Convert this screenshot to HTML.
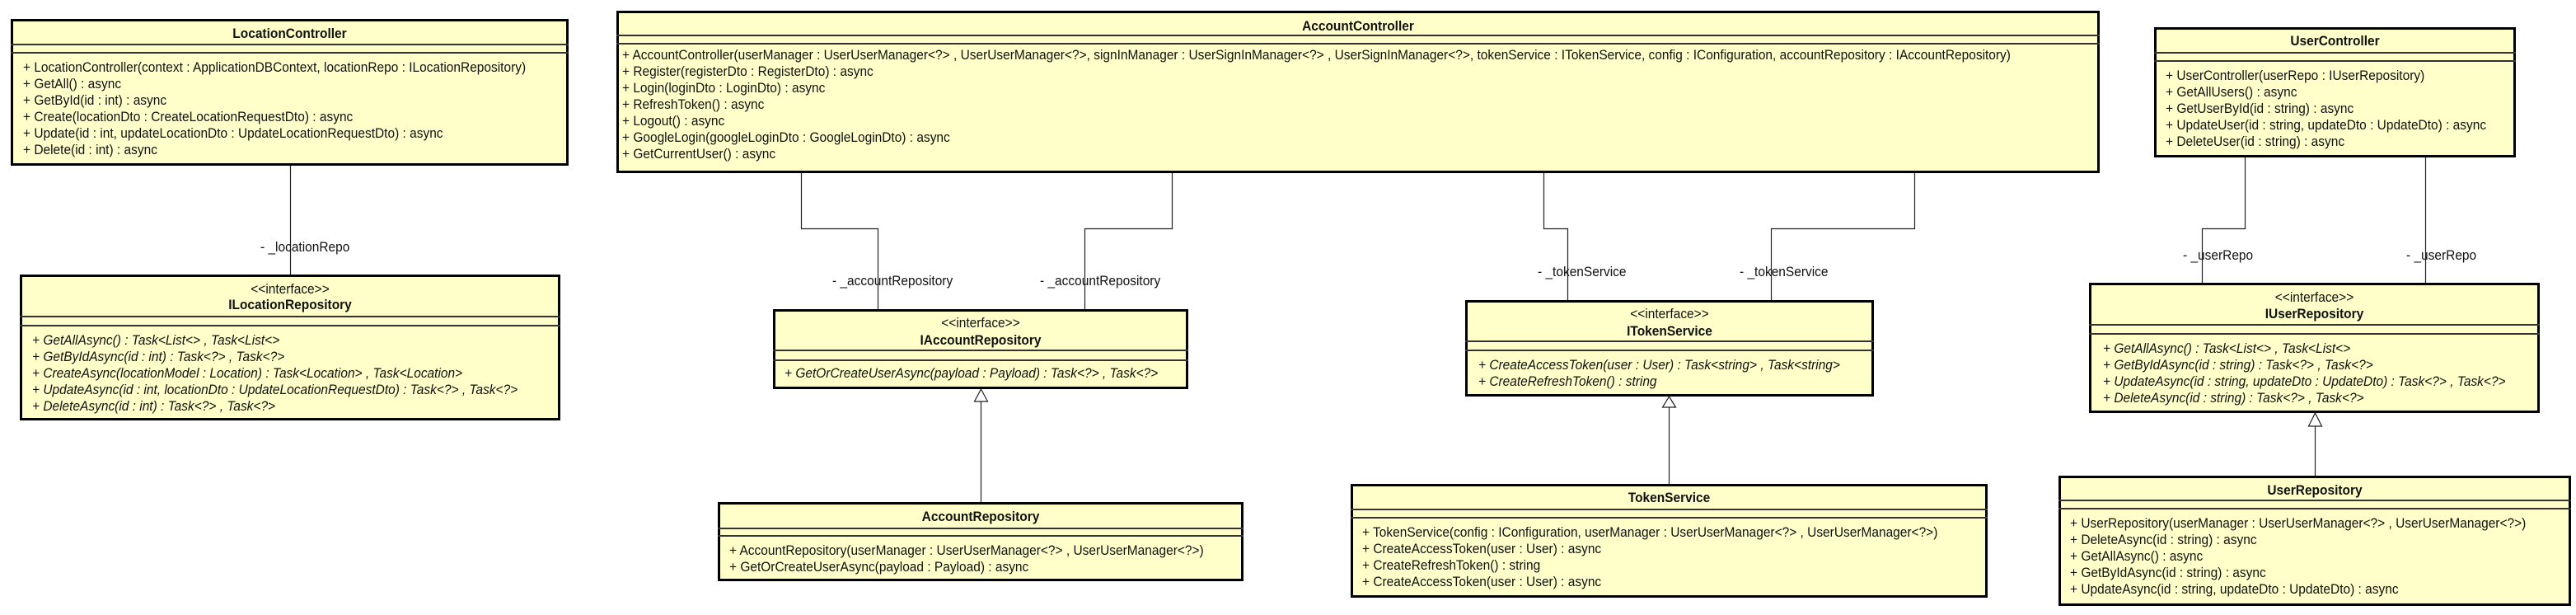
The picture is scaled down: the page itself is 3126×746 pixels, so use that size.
<!DOCTYPE html>
<html><head><meta charset="utf-8"><style>
body{margin:0;width:3126px;height:746px;background:#fff;position:relative;overflow:hidden;font-family:"Liberation Sans",Arial,sans-serif;}
.b{position:absolute;background:#ffffca;border:3px solid #000;box-sizing:border-box;}
.s{position:absolute;height:2px;background:#333;}
.t{position:absolute;white-space:nowrap;font-size:17px;line-height:20px;height:20px;color:#111;transform:scaleX(0.91);transform-origin:0 50%;}
.c{position:absolute;white-space:nowrap;font-size:17px;line-height:20px;height:20px;text-align:center;color:#111;transform:scaleX(0.91);transform-origin:50% 50%;}
.bold{font-weight:bold;}
.i{font-style:italic;}
svg{position:absolute;left:0;top:0;}
</style></head><body>

<div class="b" style="left:13px;top:23px;width:677px;height:178px"></div>
<div class="s" style="left:13px;top:53px;width:677px"></div>
<div class="s" style="left:13px;top:63px;width:677px"></div>
<div class="c bold" style="left:13px;top:31px;width:677px">LocationController</div>
<div class="t" style="left:28px;top:72px">+ LocationController(context : ApplicationDBContext, locationRepo : ILocationRepository)</div>
<div class="t" style="left:28px;top:92px">+ GetAll() : async</div>
<div class="t" style="left:28px;top:112px">+ GetById(id : int) : async</div>
<div class="t" style="left:28px;top:132px">+ Create(locationDto : CreateLocationRequestDto) : async</div>
<div class="t" style="left:28px;top:152px">+ Update(id : int, updateLocationDto : UpdateLocationRequestDto) : async</div>
<div class="t" style="left:28px;top:172px">+ Delete(id : int) : async</div>

<div class="b" style="left:24px;top:333px;width:656px;height:177px"></div>
<div class="s" style="left:24px;top:383px;width:656px"></div>
<div class="s" style="left:24px;top:394px;width:656px"></div>
<div class="c" style="left:24px;top:341px;width:656px">&lt;&lt;interface&gt;&gt;</div>
<div class="c bold" style="left:24px;top:360px;width:656px">ILocationRepository</div>
<div class="t i" style="left:39px;top:403px">+ GetAllAsync() : Task&lt;List&lt;&gt; , Task&lt;List&lt;&gt;</div>
<div class="t i" style="left:39px;top:423px">+ GetByIdAsync(id : int) : Task&lt;?&gt; , Task&lt;?&gt;</div>
<div class="t i" style="left:39px;top:443px">+ CreateAsync(locationModel : Location) : Task&lt;Location&gt; , Task&lt;Location&gt;</div>
<div class="t i" style="left:39px;top:463px">+ UpdateAsync(id : int, locationDto : UpdateLocationRequestDto) : Task&lt;?&gt; , Task&lt;?&gt;</div>
<div class="t i" style="left:39px;top:483px">+ DeleteAsync(id : int) : Task&lt;?&gt; , Task&lt;?&gt;</div>

<div class="b" style="left:748px;top:13px;width:1800px;height:197px"></div>
<div class="s" style="left:748px;top:42px;width:1800px"></div>
<div class="s" style="left:748px;top:52px;width:1800px"></div>
<div class="c bold" style="left:748px;top:22px;width:1800px">AccountController</div>
<div class="t" style="left:755px;top:57px">+ AccountController(userManager : UserUserManager&lt;?&gt; , UserUserManager&lt;?&gt;, signInManager : UserSignInManager&lt;?&gt; , UserSignInManager&lt;?&gt;, tokenService : ITokenService, config : IConfiguration, accountRepository : IAccountRepository)</div>
<div class="t" style="left:755px;top:77px">+ Register(registerDto : RegisterDto) : async</div>
<div class="t" style="left:755px;top:97px">+ Login(loginDto : LoginDto) : async</div>
<div class="t" style="left:755px;top:117px">+ RefreshToken() : async</div>
<div class="t" style="left:755px;top:137px">+ Logout() : async</div>
<div class="t" style="left:755px;top:157px">+ GoogleLogin(googleLoginDto : GoogleLoginDto) : async</div>
<div class="t" style="left:755px;top:177px">+ GetCurrentUser() : async</div>

<div class="b" style="left:938px;top:375px;width:504px;height:97px"></div>
<div class="s" style="left:938px;top:424px;width:504px"></div>
<div class="s" style="left:938px;top:436px;width:504px"></div>
<div class="c" style="left:938px;top:382px;width:504px">&lt;&lt;interface&gt;&gt;</div>
<div class="c bold" style="left:938px;top:403px;width:504px">IAccountRepository</div>
<div class="t i" style="left:952px;top:443px">+ GetOrCreateUserAsync(payload : Payload) : Task&lt;?&gt; , Task&lt;?&gt;</div>

<div class="b" style="left:871px;top:609px;width:638px;height:96px"></div>
<div class="s" style="left:871px;top:640px;width:638px"></div>
<div class="s" style="left:871px;top:649px;width:638px"></div>
<div class="c bold" style="left:871px;top:617px;width:638px">AccountRepository</div>
<div class="t" style="left:885px;top:658px">+ AccountRepository(userManager : UserUserManager&lt;?&gt; , UserUserManager&lt;?&gt;)</div>
<div class="t" style="left:885px;top:678px">+ GetOrCreateUserAsync(payload : Payload) : async</div>

<div class="b" style="left:1778px;top:364px;width:496px;height:117px"></div>
<div class="s" style="left:1778px;top:413px;width:496px"></div>
<div class="s" style="left:1778px;top:424px;width:496px"></div>
<div class="c" style="left:1778px;top:371px;width:496px">&lt;&lt;interface&gt;&gt;</div>
<div class="c bold" style="left:1778px;top:392px;width:496px">ITokenService</div>
<div class="t i" style="left:1794px;top:433px">+ CreateAccessToken(user : User) : Task&lt;string&gt; , Task&lt;string&gt;</div>
<div class="t i" style="left:1794px;top:453px">+ CreateRefreshToken() : string</div>

<div class="b" style="left:1639px;top:587px;width:773px;height:138px"></div>
<div class="s" style="left:1639px;top:617px;width:773px"></div>
<div class="s" style="left:1639px;top:627px;width:773px"></div>
<div class="c bold" style="left:1639px;top:594px;width:773px">TokenService</div>
<div class="t" style="left:1653px;top:636px">+ TokenService(config : IConfiguration, userManager : UserUserManager&lt;?&gt; , UserUserManager&lt;?&gt;)</div>
<div class="t" style="left:1653px;top:656px">+ CreateAccessToken(user : User) : async</div>
<div class="t" style="left:1653px;top:676px">+ CreateRefreshToken() : string</div>
<div class="t" style="left:1653px;top:696px">+ CreateAccessToken(user : User) : async</div>

<div class="b" style="left:2614px;top:33px;width:439px;height:158px"></div>
<div class="s" style="left:2614px;top:63px;width:439px"></div>
<div class="s" style="left:2614px;top:73px;width:439px"></div>
<div class="c bold" style="left:2614px;top:40px;width:439px">UserController</div>
<div class="t" style="left:2628px;top:82px">+ UserController(userRepo : IUserRepository)</div>
<div class="t" style="left:2628px;top:102px">+ GetAllUsers() : async</div>
<div class="t" style="left:2628px;top:122px">+ GetUserById(id : string) : async</div>
<div class="t" style="left:2628px;top:142px">+ UpdateUser(id : string, updateDto : UpdateDto) : async</div>
<div class="t" style="left:2628px;top:162px">+ DeleteUser(id : string) : async</div>

<div class="b" style="left:2535px;top:343px;width:547px;height:158px"></div>
<div class="s" style="left:2535px;top:393px;width:547px"></div>
<div class="s" style="left:2535px;top:404px;width:547px"></div>
<div class="c" style="left:2535px;top:351px;width:547px">&lt;&lt;interface&gt;&gt;</div>
<div class="c bold" style="left:2535px;top:371px;width:547px">IUserRepository</div>
<div class="t i" style="left:2552px;top:413px">+ GetAllAsync() : Task&lt;List&lt;&gt; , Task&lt;List&lt;&gt;</div>
<div class="t i" style="left:2552px;top:433px">+ GetByIdAsync(id : string) : Task&lt;?&gt; , Task&lt;?&gt;</div>
<div class="t i" style="left:2552px;top:453px">+ UpdateAsync(id : string, updateDto : UpdateDto) : Task&lt;?&gt; , Task&lt;?&gt;</div>
<div class="t i" style="left:2552px;top:473px">+ DeleteAsync(id : string) : Task&lt;?&gt; , Task&lt;?&gt;</div>

<div class="b" style="left:2498px;top:577px;width:622px;height:158px"></div>
<div class="s" style="left:2498px;top:606px;width:622px"></div>
<div class="s" style="left:2498px;top:616px;width:622px"></div>
<div class="c bold" style="left:2498px;top:585px;width:622px">UserRepository</div>
<div class="t" style="left:2512px;top:625px">+ UserRepository(userManager : UserUserManager&lt;?&gt; , UserUserManager&lt;?&gt;)</div>
<div class="t" style="left:2512px;top:645px">+ DeleteAsync(id : string) : async</div>
<div class="t" style="left:2512px;top:665px">+ GetAllAsync() : async</div>
<div class="t" style="left:2512px;top:685px">+ GetByIdAsync(id : string) : async</div>
<div class="t" style="left:2512px;top:705px">+ UpdateAsync(id : string, updateDto : UpdateDto) : async</div>

<svg width="3126" height="746" viewBox="0 0 3126 746">
<g fill="none" stroke="#222" stroke-width="1.2">
<path d="M352.5 201V333"/>
<path d="M972.5 210V277.5H1065.5V375"/>
<path d="M1422.5 210V277.5H1316.5V375"/>
<path d="M1873.5 210V277.5H1902.5V364"/>
<path d="M2323.5 210V277.5H2149.5V364"/>
<path d="M2724.5 191V277.5H2672.5V343"/>
<path d="M2943.5 191V343"/>
<path d="M1190.5 487V609"/>
<path d="M2025.5 494V587"/>
<path d="M2809.5 517V577"/>
</g>
<g fill="#fff" stroke="#222" stroke-width="1.2">
<path d="M1190.5 472L1198.5 487H1182.5Z"/>
<path d="M2025.5 481L2033.5 494H2017.5Z"/>
<path d="M2809.5 501L2817.5 517H2801.5Z"/>
</g>
</svg>

<div class="t" style="left:316px;top:290px">- _locationRepo</div>
<div class="t" style="left:1010px;top:331px">- _accountRepository</div>
<div class="t" style="left:1262px;top:331px">- _accountRepository</div>
<div class="t" style="left:1866px;top:320px">- _tokenService</div>
<div class="t" style="left:2111px;top:320px">- _tokenService</div>
<div class="t" style="left:2649px;top:300px">- _userRepo</div>
<div class="t" style="left:2920px;top:300px">- _userRepo</div>

</body></html>
